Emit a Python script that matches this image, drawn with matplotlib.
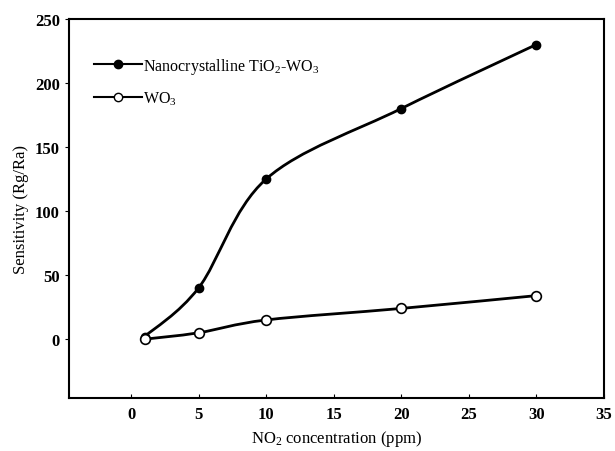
import numpy as np
import matplotlib
matplotlib.use("Agg")
import matplotlib.pyplot as plt
from matplotlib.path import Path
from matplotlib.patches import PathPatch

plt.rcParams['font.family'] = ['Liberation Serif', 'DejaVu Serif']
plt.rcParams['mathtext.fontset'] = 'custom'
plt.rcParams['mathtext.rm'] = 'Liberation Serif'
plt.rcParams['mathtext.it'] = 'Liberation Serif:italic'
plt.rcParams['mathtext.bf'] = 'Liberation Serif:bold'

# ====== Data ======
conc = [1, 5, 10, 20, 30]
tio2_wo3 = [2, 40, 125, 180, 230]
wo3 = [0, 5, 15, 24, 34]
x_ticks = [0, 5, 10, 15, 20, 25, 30, 35]
y_ticks = [0, 50, 100, 150, 200, 250]
# ==================


def smooth_path(xs, ys):
    # Catmull-Rom style bezier through the measured points
    pts = np.column_stack([xs, ys]).astype(float)
    verts = [pts[0]]
    codes = [Path.MOVETO]
    n = len(pts)
    for i in range(n - 1):
        p0 = pts[max(i - 1, 0)]
        p1 = pts[i]
        p2 = pts[i + 1]
        p3 = pts[min(i + 2, n - 1)]
        c1 = p1 + (p2 - p0) / 6.0
        c2 = p2 - (p3 - p1) / 6.0
        verts += [c1, c2, p2]
        codes += [Path.CURVE4] * 3
    return Path(verts, codes)


fig = plt.figure(figsize=(6.15, 4.52), dpi=100)
ax = fig.add_axes([0.112, 0.117, 0.870, 0.839])

for ys in (tio2_wo3, wo3):
    ax.add_patch(PathPatch(smooth_path(conc, ys), fill=False, lw=2, ec='black', zorder=2))

ax.plot(conc, tio2_wo3, 'o', color='black', ms=6, zorder=3)
ax.plot(conc, wo3, 'o', mfc='white', mec='black', mew=1.2, ms=7, zorder=3)

# legend handles
ax.plot([], [], '-o', color='black', lw=1.5, ms=6, label='Nanocrystalline TiO$_2$-WO$_3$')
ax.plot([], [], '-o', color='black', mfc='white', lw=1.5, ms=6, label='WO$_3$')
ax.legend(loc='upper left', bbox_to_anchor=(0.02, 0.94), frameon=False, fontsize=11.5,
          handlelength=3.0, handletextpad=0.1, labelspacing=0.85)

ax.set_xlim(-4.6, 35)
ax.set_ylim(-46, 250)
ax.set_xticks(x_ticks)
ax.set_yticks(y_ticks)
ax.tick_params(axis='x', direction='in', length=3, labelsize=12, pad=6)
ax.tick_params(axis='y', direction='out', length=3, labelsize=12)
for lbl in ax.get_xticklabels() + ax.get_yticklabels():
    lbl.set_fontweight('bold')
for s in ax.spines.values():
    s.set_linewidth(1.5)

ax.set_xlabel('NO$_2$ concentration (ppm)', fontsize=12)
ax.set_ylabel('Sensitivity (Rg/Ra)', fontsize=12)

fig.savefig('out.png', dpi=100)
